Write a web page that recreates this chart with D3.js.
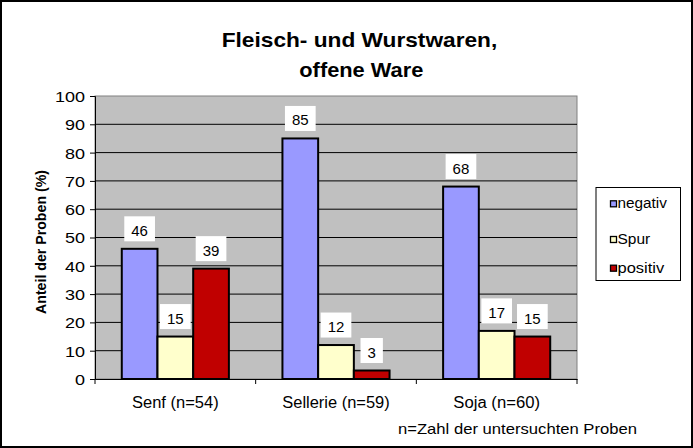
<!DOCTYPE html>
<html><head><meta charset="utf-8">
<script src="https://cdn.jsdelivr.net/npm/d3@7"></script>
<style>body{margin:0;background:#fff}svg{display:block}text{font-family:"Liberation Sans",Arial,sans-serif}</style>
</head><body>
<script>
const categories = ["Senf (n=54)", "Sellerie (n=59)", "Soja (n=60)"];
const seriesNames = ["negativ", "Spur", "positiv"];
const negativ = [46, 85, 68];
const spur = [15, 12, 17];
const positiv = [39, 3, 15];
const yTicks = [0,10,20,30,40,50,60,70,80,90,100];
const colors = ["#9999FF", "#FFFFCC", "#C00000"];
const seriesValues = [negativ, spur, positiv];

const W = 693, H = 448;
const m = {l:95, t:96, r:577, b:379};
const svg = d3.select("body").append("svg").attr("width", W).attr("height", H);
svg.append("rect").attr("x",1).attr("y",1).attr("width",W-2).attr("height",H-2).attr("fill","#fff").attr("stroke","#000").attr("stroke-width",2);

function stretch(sel, k){
  sel.each(function(){
    const t = d3.select(this);
    const x = +t.attr("x")||0, y = +t.attr("y")||0;
    t.attr("x",0).attr("y",0).attr("transform",`translate(${x},${y}) scale(${k},1)`);
  });
}
function fit(sel, w){ sel.attr("textLength", w).attr("lengthAdjust","spacingAndGlyphs"); }

const x0 = d3.scaleBand().domain(categories).range([m.l, m.r]).paddingInner(0).paddingOuter(0);
const x1 = d3.scaleBand().domain(seriesNames).range([0, x0.bandwidth()]).paddingInner(0).paddingOuter(0.75);
const y = d3.scaleLinear().domain([0,100]).range([m.b, m.t]);

svg.append("rect").attr("x",m.l).attr("y",m.t).attr("width",m.r-m.l).attr("height",m.b-m.t).attr("fill","#C0C0C0").attr("stroke","#808080");

svg.append("g").selectAll("line").data(yTicks.filter(d=>d>0 && d<100)).join("line")
  .attr("x1",m.l).attr("x2",m.r).attr("y1",d=>y(d)).attr("y2",d=>y(d)).attr("stroke","#000").attr("stroke-width",1);

// y axis
const yAxis = svg.append("g").attr("transform",`translate(${m.l},0)`)
  .call(d3.axisLeft(y).tickValues(yTicks).tickSize(5).tickPadding(5));
yAxis.select(".domain").attr("stroke","#000");
yAxis.selectAll("line").attr("stroke","#000");
yAxis.selectAll("text").attr("font-size",15).attr("fill","#000").attr("dy","0.36em");
stretch(yAxis.selectAll("text"), 1.2);

// x axis
const xAxis = svg.append("g").attr("transform",`translate(0,${m.b})`)
  .call(d3.axisBottom(x0).tickSize(0).tickPadding(0));
xAxis.select(".domain").attr("stroke","#000");
xAxis.selectAll("text").attr("font-size",16).attr("fill","#000").attr("dy",null).attr("y",28.5);
xAxis.selectAll("text").each(function(d){ fit(d3.select(this), d.startsWith("Sellerie") ? 107.5 : 86.7); });
svg.append("g").selectAll("line").data([m.l, ...categories.map(c=>x0(c)+x0.bandwidth())]).join("line")
  .attr("x1",d=>d).attr("x2",d=>d).attr("y1",m.b).attr("y2",m.b+5).attr("stroke","#000");

// bars
const groups = svg.append("g").selectAll("g").data(categories).join("g")
  .attr("transform",c=>`translate(${x0(c)},0)`);
const barData = (c,i) => seriesNames.map((s,j)=>({s, j, v: seriesValues[j][i]}));
groups.selectAll("rect").data(barData).join("rect")
  .attr("x",d=>x1(d.s)).attr("width",x1.bandwidth())
  .attr("y",d=>y(d.v)).attr("height",d=>y(0)-y(d.v))
  .attr("fill",d=>colors[d.j]).attr("stroke","#000").attr("stroke-width",2);

// labels
groups.each(function(c,i){
  const g = d3.select(this);
  barData(c,i).forEach(d=>{
    const cx = x1(d.s)+x1.bandwidth()/2;
    const t = g.append("text").attr("x",cx).attr("y",y(d.v)-13).attr("text-anchor","middle")
      .attr("font-size",15).attr("fill","#000").text(d.v);
    const bb = t.node().getBBox();
    g.insert("rect", () => t.node()).attr("x",bb.x-7).attr("y",y(d.v)-32.5).attr("width",bb.width+14).attr("height",25).attr("fill","#fff");
  });
});

// title
const title = svg.append("g").attr("font-weight","bold").attr("font-size",21);
fit(title.append("text").attr("x",359.5).attr("y",46.7).attr("text-anchor","middle").text("Fleisch- und Wurstwaren,"), 275.6);
fit(title.append("text").attr("x",361.3).attr("y",76.7).attr("text-anchor","middle").text("offene Ware"), 124);

// y title
fit(svg.append("text").attr("transform",`translate(46,242) rotate(-90)`).attr("text-anchor","middle")
  .attr("font-weight","bold").attr("font-size",15).text("Anteil der Proben (%)"), 144);

// legend
const lg = svg.append("g");
lg.append("rect").attr("x",596).attr("y",187.5).attr("width",84.5).attr("height",93).attr("fill","#fff").attr("stroke","#000");
const legY = [208.3, 244, 272.7];
const legW = [49.4, 32.7, 46.7];
seriesNames.forEach((s,j)=>{
  const yy = legY[j];
  lg.append("rect").attr("x",610.5).attr("y",yy-7.5).attr("width",6).attr("height",6).attr("fill",colors[j]).attr("stroke","#000").attr("stroke-width",1.3);
  fit(lg.append("text").attr("x",617.5).attr("y",yy).attr("font-size",14).text(s), legW[j]);
});

fit(svg.append("text").attr("x",398).attr("y",434.3).attr("font-size",15).text("n=Zahl der untersuchten Proben"), 239);
</script>
</body></html>
